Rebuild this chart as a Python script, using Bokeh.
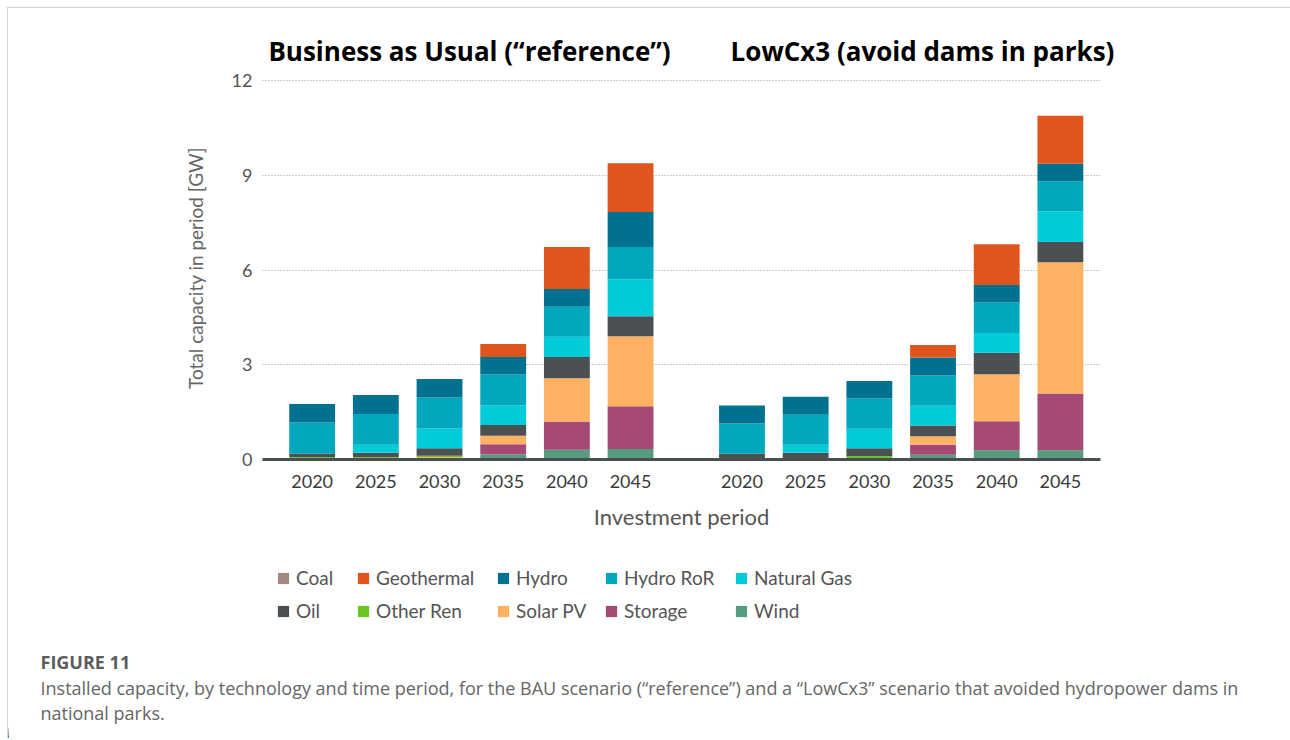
from bokeh.plotting import figure
from bokeh.layouts import column
from bokeh.models import ColumnDataSource, FixedTicker, Label, Legend, LegendItem, Range1d
from bokeh.embed import file_html
from bokeh.resources import INLINE

# ---------------- data ----------------
years = ["2020", "2025", "2030", "2035", "2040", "2045"]
scenario_titles = ["Business as Usual (\u201creference\u201d)", "LowCx3 (avoid dams in parks)"]
legend_order = ["Coal", "Geothermal", "Hydro", "Hydro RoR", "Natural Gas",
                "Oil", "Other Ren", "Solar PV", "Storage", "Wind"]
stack_order = ["Wind", "Storage", "Solar PV", "Other Ren", "Oil",
               "Natural Gas", "Hydro RoR", "Hydro", "Geothermal", "Coal"]

# Business as Usual (GW)
bau_wind        = [0.02, 0.02, 0.02, 0.16, 0.31, 0.33]
bau_storage     = [0.00, 0.00, 0.03, 0.32, 0.89, 1.36]
bau_solar       = [0.00, 0.00, 0.03, 0.27, 1.37, 2.21]
bau_other_ren   = [0.05, 0.05, 0.04, 0.00, 0.00, 0.00]
bau_oil         = [0.11, 0.14, 0.24, 0.34, 0.68, 0.64]
bau_gas         = [0.00, 0.26, 0.62, 0.63, 0.64, 1.17]
bau_hydro_ror   = [0.99, 0.97, 0.98, 0.97, 0.95, 1.02]
bau_hydro       = [0.59, 0.60, 0.59, 0.56, 0.56, 1.11]
bau_geothermal  = [0.00, 0.00, 0.00, 0.41, 1.33, 1.54]
bau_coal        = [0.00, 0.00, 0.00, 0.00, 0.00, 0.00]

# LowCx3 (GW)
low_wind        = [0.01, 0.01, 0.03, 0.15, 0.29, 0.29]
low_storage     = [0.00, 0.00, 0.00, 0.32, 0.92, 1.80]
low_solar       = [0.02, 0.02, 0.02, 0.27, 1.49, 4.16]
low_other_ren   = [0.00, 0.00, 0.06, 0.00, 0.00, 0.00]
low_oil         = [0.15, 0.18, 0.25, 0.34, 0.68, 0.64]
low_gas         = [0.00, 0.26, 0.61, 0.62, 0.63, 0.97]
low_hydro_ror   = [0.96, 0.95, 0.96, 0.96, 0.97, 0.95]
low_hydro       = [0.57, 0.57, 0.56, 0.57, 0.55, 0.56]
low_geothermal  = [0.00, 0.00, 0.00, 0.40, 1.29, 1.52]
low_coal        = [0.00, 0.00, 0.00, 0.00, 0.00, 0.00]

colors = {
    "Coal": "#a28a80",
    "Geothermal": "#e0541e",
    "Hydro": "#00728f",
    "Hydro RoR": "#00a7bd",
    "Natural Gas": "#00ccd9",
    "Oil": "#4b5152",
    "Other Ren": "#6cc524",
    "Solar PV": "#fdb163",
    "Storage": "#a44a74",
    "Wind": "#559b7e",
}

caption_head = "FIGURE 11"
caption_lines = [
    "Installed capacity, by technology and time period, for the BAU scenario (\u201creference\u201d) and a \u201cLowCx3\u201d scenario that avoided hydropower dams in",
    "national parks.",
]

# ---------------- build source ----------------
GROUP_GAP = 0.75
xs = [i for i in range(len(years))] + [len(years) + GROUP_GAP + i for i in range(len(years))]
bau = {"Wind": bau_wind, "Storage": bau_storage, "Solar PV": bau_solar, "Other Ren": bau_other_ren,
       "Oil": bau_oil, "Natural Gas": bau_gas, "Hydro RoR": bau_hydro_ror, "Hydro": bau_hydro,
       "Geothermal": bau_geothermal, "Coal": bau_coal}
low = {"Wind": low_wind, "Storage": low_storage, "Solar PV": low_solar, "Other Ren": low_other_ren,
       "Oil": low_oil, "Natural Gas": low_gas, "Hydro RoR": low_hydro_ror, "Hydro": low_hydro,
       "Geothermal": low_geothermal, "Coal": low_coal}
data = {"x": xs}
for t in stack_order:
    data[t] = bau[t] + low[t]
src = ColumnDataSource(data)

W = 1282


def blank_panel(height):
    f = figure(width=W, height=height, x_range=Range1d(100, 100 + W), y_range=Range1d(0, height),
               output_backend="svg", toolbar_location=None,
               x_axis_type=None, y_axis_type=None,
               min_border_left=0, min_border_right=0, min_border_top=0, min_border_bottom=0)
    f.outline_line_color = None
    f.xgrid.grid_line_color = None
    f.ygrid.grid_line_color = None
    f.background_fill_color = "white"
    f.border_fill_color = "white"
    if "frame_align" in f.properties():
        f.frame_align = False
    return f


# ---------------- scenario titles ----------------
T_H = 61
t = blank_panel(T_H)
title_cx = [461, 914]
for cx, tt in zip(title_cx, scenario_titles):
    t.add_layout(Label(x=cx, y=18.5, x_units="screen", y_units="screen", text=tt,
                       text_align="center", text_baseline="middle",
                       text_font="Open Sans", text_font_style="bold",
                       text_font_size="26px", text_color="#000000"))

# ---------------- main chart ----------------
p = figure(width=W, height=466,
           x_range=Range1d(-0.78, 12.38), y_range=Range1d(0, 12.13),
           output_backend="svg", toolbar_location=None,
           min_border_left=254, min_border_right=190,
           min_border_top=7, min_border_bottom=76)
p.outline_line_color = None
p.background_fill_color = "white"
p.border_fill_color = "white"
if "frame_align" in p.properties():
    p.frame_align = False

renderers = p.vbar_stack(stack_order, x="x", width=0.72, source=src,
                         color=[colors[s] for s in stack_order], line_color=None)

p.xaxis.ticker = FixedTicker(ticks=xs)
p.xaxis.major_label_overrides = {x: years[i % len(years)] for i, x in enumerate(xs)}
p.xaxis.axis_line_width = 3
p.xaxis.axis_line_color = "#4a4f50"
p.xaxis.major_tick_line_color = None
p.xaxis.minor_tick_line_color = None
p.xaxis.major_label_text_font = "Lato"
p.xaxis.major_label_text_font_size = "18px"
p.xaxis.major_label_text_color = "#3a3a3a"
p.xaxis.major_label_standoff = 9
p.xaxis.axis_label = "Investment period"
p.xaxis.axis_label_text_font = "Lato"
p.xaxis.axis_label_text_font_size = "22px"
p.xaxis.axis_label_text_font_style = "normal"
p.xaxis.axis_label_text_color = "#555555"
p.xaxis.axis_label_standoff = 12

p.yaxis.ticker = FixedTicker(ticks=[0, 3, 6, 9, 12])
p.yaxis.axis_line_color = None
p.yaxis.major_tick_line_color = None
p.yaxis.minor_tick_line_color = None
p.yaxis.major_label_text_font = "Lato"
p.yaxis.major_label_text_font_size = "18px"
p.yaxis.major_label_text_color = "#555555"
p.yaxis.major_label_standoff = 4
p.yaxis.axis_label = "Total capacity in period [GW]"
p.yaxis.axis_label_text_font = "Lato"
p.yaxis.axis_label_text_font_size = "19px"
p.yaxis.axis_label_text_font_style = "normal"
p.yaxis.axis_label_text_color = "#666666"
p.yaxis.axis_label_standoff = 22

p.xgrid.grid_line_color = None
p.ygrid.ticker = FixedTicker(ticks=[3, 6, 9, 12])
p.ygrid.grid_line_color = "#9a9a9a"
p.ygrid.grid_line_dash = "1 2"
p.ygrid.grid_line_width = 1

# ---------------- legend + caption panel ----------------
H2 = 203
q = blank_panel(H2)
# the same stacks, drawn from the same data, lie outside this panel's visible range;
# they only serve as the legend's swatches
legend_renderers = q.vbar_stack(stack_order, x="x", width=0.72, source=src,
                                color=[colors[s] for s in stack_order], line_color=None)
rmap = dict(zip(stack_order, legend_renderers))

col_offsets = [268, 348, 488, 596, 726]
for c in range(5):
    names = [legend_order[c], legend_order[c + 5]]
    items = [LegendItem(label=n, renderers=[rmap[n]]) for n in names]
    leg = Legend(items=items, location=(col_offsets[c], 116), orientation="vertical",
                 padding=0, margin=0, spacing=10, border_line_color=None,
                 background_fill_alpha=0, glyph_width=14, glyph_height=14,
                 label_standoff=6, label_height=22,
                 label_text_font="Lato", label_text_font_size="19px",
                 label_text_color="#555555")
    q.add_layout(leg, "center")

q.add_layout(Label(x=32, y=77, x_units="screen", y_units="screen", text=caption_head,
                   text_baseline="middle", text_font="Open Sans", text_font_style="bold",
                   text_font_size="18px", text_color="#5c5c5c"))
for i, line in enumerate(caption_lines):
    q.add_layout(Label(x=32, y=51 - 25 * i, x_units="screen", y_units="screen", text=line,
                       text_baseline="middle", text_font="Open Sans",
                       text_font_size="18px", text_color="#666666"))

layout = column(t, p, q, spacing=0,
                styles={"margin-left": "7px", "margin-top": "7px",
                        "border-top": "1px solid #d4d4d4", "border-left": "1px solid #d4d4d4"})

open("out.html", "w").write(file_html(layout, INLINE))
